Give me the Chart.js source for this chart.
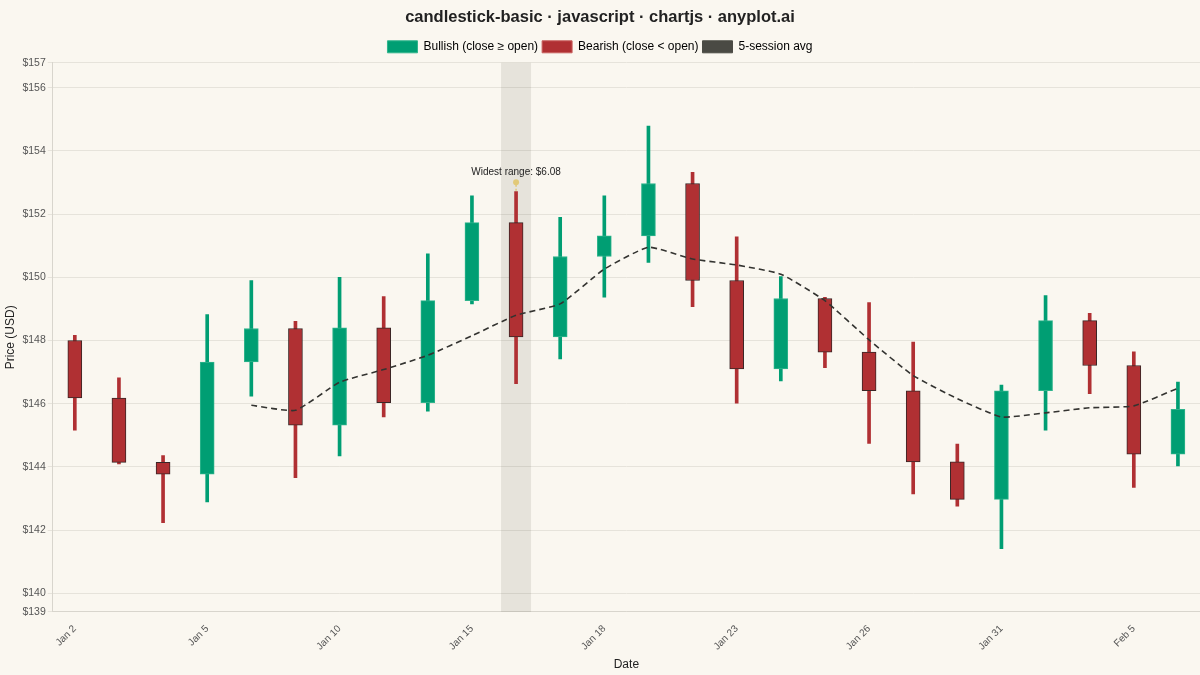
<!DOCTYPE html>
<html lang="en">
<head>
<meta charset="utf-8">
<title>candlestick-basic · javascript · chartjs · anyplot.ai</title>
<script src="https://cdn.jsdelivr.net/npm/chart.js@4.4.1/dist/chart.umd.min.js"></script>
<style>
    html, body { margin: 0; padding: 0; background: #FAF7F0; }
    #wrap { width: 1200px; height: 675px; position: relative; }
</style>
</head>
<body>
<div id="wrap"><canvas id="chartVelas"></canvas></div>
<script>
// Trading sessions (2024)
const dates = ['Jan 2', 'Jan 3', 'Jan 4', 'Jan 5', 'Jan 8', 'Jan 9', 'Jan 10', 'Jan 11', 'Jan 12',
    'Jan 15', 'Jan 16', 'Jan 17', 'Jan 18', 'Jan 19', 'Jan 22', 'Jan 23', 'Jan 24', 'Jan 25',
    'Jan 26', 'Jan 29', 'Jan 30', 'Jan 31', 'Feb 1', 'Feb 2', 'Feb 5', 'Feb 6'];

const opens  = [148.00, 146.18, 144.14, 143.77, 147.32, 148.38, 145.32, 148.40, 146.03, 149.26, 151.73, 148.11, 150.66,
                151.31, 152.97, 149.90, 147.10, 149.33, 147.63, 146.41, 144.16, 142.97, 146.41, 148.63, 147.21, 144.40];
const highs  = [148.16, 146.82, 144.36, 148.82, 149.90, 148.61, 150.00, 149.39, 150.74, 152.58, 152.71, 151.90, 152.58,
                154.79, 153.32, 151.28, 150.02, 149.37, 149.20, 147.95, 144.72, 146.59, 149.42, 148.86, 147.64, 146.68];
const lows   = [145.16, 144.09, 142.23, 142.89, 146.24, 143.66, 144.35, 145.58, 145.76, 149.16, 146.63, 147.42, 149.37,
                150.47, 149.07, 146.02, 146.72, 147.14, 144.74, 143.14, 142.76, 141.41, 145.16, 146.32, 143.35, 144.03];
const closes = [146.18, 144.14, 143.77, 147.32, 148.38, 145.32, 148.40, 146.03, 149.26, 151.73, 148.11, 150.66, 151.31,
                152.97, 149.90, 147.10, 149.33, 147.63, 146.41, 144.16, 142.97, 146.41, 148.63, 147.21, 144.40, 145.82];

// 5-session average as plotted (empty until 5 sessions exist)
const avg5 = [null, null, null, null, 145.95, 145.79, 146.68, 147.08, 147.53, 148.15, 148.80, 149.16, 150.26,
              150.95, 150.58, 150.39, 150.10, 149.26, 148.02, 146.89, 146.16, 145.58, 145.71, 145.87, 145.93, 146.49];

// Price ticks between the padded bounds
const yTicks = [140, 142, 144, 146, 148, 150, 152, 154, 156];

const GREEN = '#009E73';
const RED = '#B03033';
const AVG = '#4A4A44';
const FONT = "'Liberation Sans', Arial, sans-serif";

const yMin = Math.min(...lows) - 2;
const yMax = Math.max(...highs) + 2;

const bullish = opens.map((o, i) => closes[i] >= o ? [o, closes[i]] : null);
const bearish = opens.map((o, i) => closes[i] < o ? [o, closes[i]] : null);
const wicks = lows.map((l, i) => [l, highs[i]]);
const wickColors = opens.map((o, i) => closes[i] >= o ? GREEN : RED);

// session with the widest high-low range
let widest = 0;
highs.forEach((h, i) => {
    if (h - lows[i] > highs[widest] - lows[widest]) widest = i;
});

const fondo = {
    id: 'fondo',
    beforeDraw(chart) {
        const { ctx, width, height } = chart;
        ctx.save();
        ctx.fillStyle = '#FAF7F0';
        ctx.fillRect(0, 0, width, height);
        ctx.restore();
    },
    beforeDatasetsDraw(chart) {
        const { ctx, chartArea, scales } = chart;
        const x = scales.x.getPixelForValue(widest);
        ctx.save();
        ctx.fillStyle = 'rgba(60, 55, 40, 0.10)';
        ctx.fillRect(x - 15, chartArea.top, 30, chartArea.bottom - chartArea.top);
        ctx.restore();
    },
    afterDatasetsDraw(chart) {
        const { ctx, scales } = chart;
        const x = scales.x.getPixelForValue(widest);
        const yTop = scales.y.getPixelForValue(highs[widest]);
        ctx.save();
        ctx.strokeStyle = '#E2C977';
        ctx.lineWidth = 1.5;
        ctx.setLineDash([2, 2]);
        ctx.beginPath();
        ctx.moveTo(x, yTop - 1);
        ctx.lineTo(x, yTop - 8);
        ctx.stroke();
        ctx.fillStyle = '#E2C977';
        ctx.beginPath();
        ctx.arc(x, yTop - 9.5, 3, 0, Math.PI * 2);
        ctx.fill();
        ctx.fillStyle = '#222';
        ctx.font = '10px ' + FONT;
        ctx.textAlign = 'center';
        ctx.textBaseline = 'bottom';
        const rango = highs[widest] - lows[widest];
        ctx.fillText('Widest range: $' + rango.toFixed(2), x, yTop - 14);
        ctx.restore();
    }
};

new Chart(document.getElementById('chartVelas'), {
    type: 'bar',
    data: {
        labels: dates,
        datasets: [
            {
                type: 'line',
                label: '5-session avg',
                data: avg5,
                borderColor: '#333330',
                backgroundColor: AVG,
                borderWidth: 1.6,
                borderDash: [6, 4],
                pointRadius: 0,
                tension: 0.15,
                order: 1
            },
            {
                label: 'Bullish (close ≥ open)',
                data: bullish,
                backgroundColor: GREEN,
                borderColor: '#2FB48C',
                borderWidth: 1,
                borderSkipped: false,
                barThickness: 14,
                grouped: false,
                order: 2
            },
            {
                label: 'Bearish (close < open)',
                data: bearish,
                backgroundColor: RED,
                borderColor: '#3A2626',
                borderWidth: 1,
                borderSkipped: false,
                barThickness: 14,
                grouped: false,
                order: 2
            },
            {
                label: 'wicks',
                data: wicks,
                backgroundColor: wickColors,
                borderWidth: 0,
                barThickness: 3,
                grouped: false,
                order: 3
            }
        ]
    },
    options: {
        responsive: true,
        maintainAspectRatio: false,
        animation: false,
        layout: { padding: { top: 4, right: 0, bottom: 0, left: 0 } },
        plugins: {
            title: {
                display: true,
                text: 'candlestick-basic · javascript · chartjs · anyplot.ai',
                color: '#222',
                font: { family: FONT, size: 16.5, weight: 'bold' },
                padding: { top: 4, bottom: 9 }
            },
            legend: {
                position: 'top',
                labels: {
                    color: '#222',
                    font: { family: FONT, size: 12 },
                    boxWidth: 30,
                    boxHeight: 12,
                    padding: 4,
                    generateLabels: () => [
                        { text: 'Bullish (close ≥ open)', fillStyle: GREEN, strokeStyle: '#2FB48C', lineWidth: 1, datasetIndex: 1 },
                        { text: 'Bearish (close < open)', fillStyle: RED, strokeStyle: '#C8605F', lineWidth: 1, datasetIndex: 2 },
                        { text: '5-session avg', fillStyle: AVG, strokeStyle: AVG, lineWidth: 1, datasetIndex: 0 }
                    ]
                }
            },
            tooltip: { enabled: false }
        },
        scales: {
            x: {
                offset: true,
                title: { display: true, text: 'Date', color: '#222', font: { family: FONT, size: 12 }, padding: { top: 2, bottom: 3 } },
                grid: { display: false },
                border: { color: '#D8D5CD' },
                ticks: {
                    color: '#555',
                    font: { family: FONT, size: 10 },
                    autoSkip: false,
                    maxRotation: 45,
                    minRotation: 45,
                    callback: (v, i) => i % 3 === 0 ? dates[i] : ''
                }
            },
            y: {
                min: yMin,
                max: yMax,
                title: { display: true, text: 'Price (USD)', color: '#222', font: { family: FONT, size: 12 }, padding: 3 },
                grid: { color: '#E6E3DB', tickLength: 5 },
                border: { color: '#D8D5CD' },
                afterBuildTicks: axis => {
                    axis.ticks = [yMin, ...yTicks, yMax].map(v => ({ value: v }));
                },
                ticks: {
                    color: '#555',
                    font: { family: FONT, size: 10.5 },
                    padding: 2,
                    callback: v => '$' + v.toFixed(0)
                }
            }
        }
    },
    plugins: [fondo]
});
</script>
</body>
</html>
